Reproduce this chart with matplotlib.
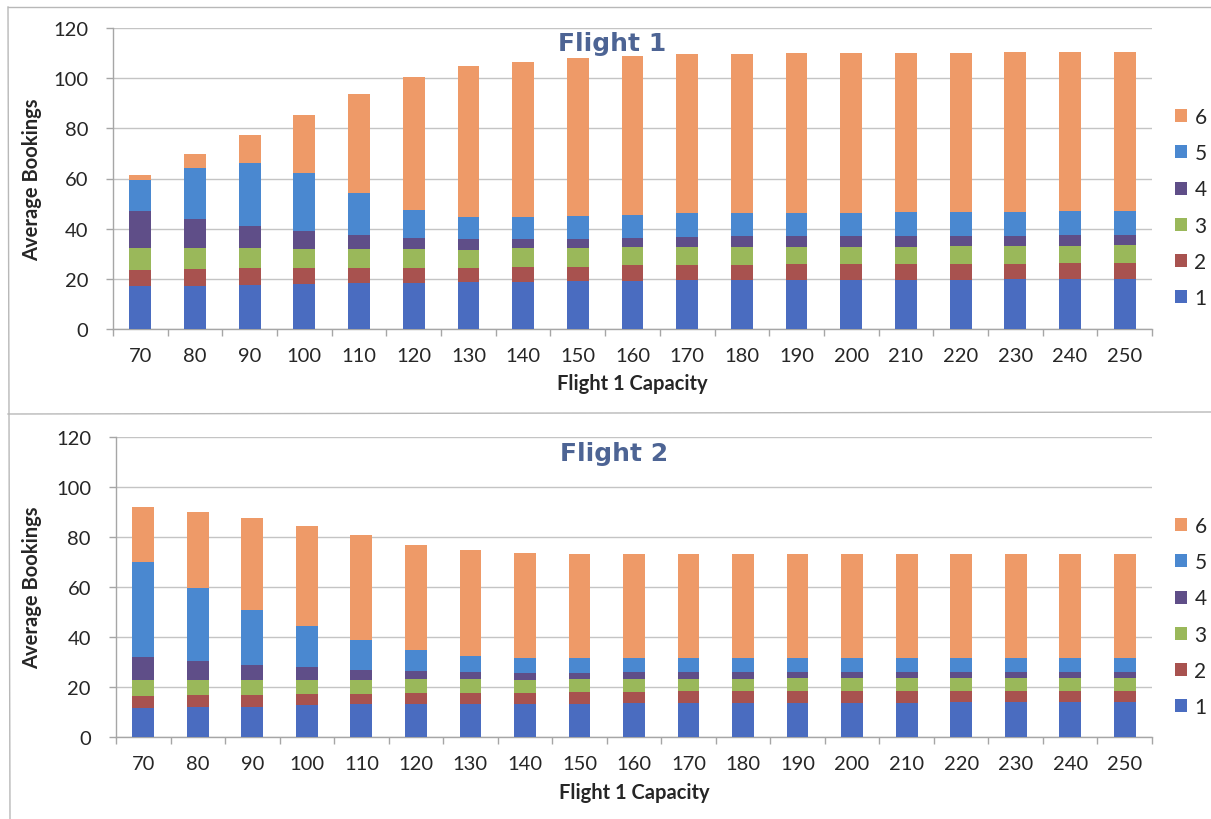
import numpy as np
import matplotlib
matplotlib.use("Agg")
import matplotlib.pyplot as plt
from matplotlib.patches import Patch
from matplotlib.lines import Line2D

# Flight 1 capacity levels (x categories)
capacities = [70, 80, 90, 100, 110, 120, 130, 140, 150, 160,
              170, 180, 190, 200, 210, 220, 230, 240, 250]
fare_classes = ["1", "2", "3", "4", "5", "6"]

# Flight 1: average bookings per fare class
f1_class1 = [17.3, 17.3, 17.5, 17.8, 18.3, 18.3, 18.6, 18.8, 19.1, 19.3,
             19.6, 19.6, 19.6, 19.6, 19.6, 19.7, 19.8, 19.8, 19.9]
f1_class2 = [6.2, 6.6, 6.7, 6.6, 6.1, 6.1, 5.8, 6.0, 5.8, 6.1,
             6.0, 6.1, 6.2, 6.2, 6.3, 6.3, 6.3, 6.4, 6.4]
f1_class3 = [8.9, 8.2, 7.9, 7.5, 7.5, 7.5, 7.2, 7.3, 7.2, 7.1,
             7.0, 7.1, 7.0, 7.0, 6.9, 6.9, 6.9, 7.0, 7.0]
f1_class4 = [14.5, 11.6, 8.9, 7.3, 5.6, 4.2, 4.1, 3.6, 3.7, 3.8,
             4.2, 4.1, 4.2, 4.2, 4.2, 4.2, 4.2, 4.2, 4.2]
f1_class5 = [12.6, 20.6, 25.1, 23.0, 16.6, 11.2, 8.8, 8.8, 9.2, 9.3,
             9.4, 9.4, 9.3, 9.4, 9.5, 9.5, 9.6, 9.5, 9.6]
f1_class6 = [2.0, 5.6, 11.3, 23.1, 39.5, 53.0, 60.2, 62.1, 63.0, 63.4,
             63.3, 63.4, 63.6, 63.6, 63.6, 63.6, 63.5, 63.5, 63.4]

# Flight 2: average bookings per fare class
f2_class1 = [11.6, 11.9, 12.0, 12.7, 13.1, 13.3, 13.3, 13.3, 13.4, 13.6,
             13.6, 13.7, 13.8, 13.8, 13.8, 13.9, 13.9, 13.9, 13.9]
f2_class2 = [4.7, 4.8, 4.9, 4.4, 4.2, 4.4, 4.4, 4.4, 4.5, 4.5,
             4.7, 4.6, 4.6, 4.6, 4.6, 4.6, 4.6, 4.6, 4.6]
f2_class3 = [6.4, 6.0, 5.8, 5.7, 5.5, 5.4, 5.4, 5.3, 5.2, 5.2,
             5.1, 5.1, 5.1, 5.1, 5.1, 5.1, 5.1, 5.1, 5.1]
f2_class4 = [9.3, 7.6, 6.2, 5.2, 3.9, 3.3, 2.9, 2.7, 2.6, 2.6,
             2.5, 2.6, 2.5, 2.5, 2.5, 2.4, 2.4, 2.4, 2.4]
f2_class5 = [38.0, 29.4, 21.8, 16.5, 12.1, 8.4, 6.4, 6.1, 6.0, 5.8,
             5.8, 5.7, 5.7, 5.7, 5.7, 5.8, 5.8, 5.8, 5.8]
f2_class6 = [22.1, 30.2, 36.9, 40.0, 41.9, 42.0, 42.3, 41.8, 41.6, 41.5,
             41.5, 41.5, 41.5, 41.6, 41.6, 41.5, 41.5, 41.5, 41.5]

colors = ["#4a6cc0", "#a8524f", "#9ab85a", "#5f4e88", "#4a88d0", "#ee9a68"]

FONT = "Lato"
TEXT = "#262626"
GRID = "#c4c4c4"
SPINE = "#a6a6a6"

W, H = 1211, 820
fig = plt.figure(figsize=(W / 100, H / 100), dpi=100)
fig.patch.set_facecolor("white")


def px_axes(left, right, top, bottom):
    return fig.add_axes([left / W, 1 - bottom / H, (right - left) / W, (bottom - top) / H])


def draw_panel(ax, series, title, title_xy, legend_y, xlabel_y, left_px):
    x = np.arange(len(capacities))
    base = np.zeros(len(capacities))
    handles = []
    for vals, col, name in zip(series, colors, fare_classes):
        vals = np.asarray(vals)
        ax.bar(x, vals, width=0.4, bottom=base, color=col, edgecolor="none", zorder=3)
        base = base + vals
        handles.append(Patch(facecolor=col, edgecolor="none", label=name))

    ax.set_xlim(-0.5, len(capacities) - 0.5)
    ax.set_ylim(0, 120)
    ax.set_yticks(np.arange(0, 121, 20))
    ax.yaxis.grid(True, color=GRID, linewidth=1.0, zorder=0)
    ax.set_axisbelow(True)

    ax.set_xticks(x)
    ax.set_xticklabels([str(c) for c in capacities])
    ax.set_xticks(np.arange(-0.5, len(capacities), 1.0), minor=True)
    ax.tick_params(axis="x", which="major", length=0, pad=13,
                   labelsize=14.5, labelcolor=TEXT)
    ax.tick_params(axis="x", which="minor", length=5, width=1, color=SPINE, direction="out")
    ax.tick_params(axis="y", which="major", length=5, width=1, color=SPINE,
                   pad=13, labelsize=14.5, labelcolor=TEXT)
    for lab in ax.get_xticklabels() + ax.get_yticklabels():
        lab.set_fontfamily(FONT)

    for s in ("top", "right"):
        ax.spines[s].set_visible(False)
    for s in ("left", "bottom"):
        ax.spines[s].set_color(SPINE)
        ax.spines[s].set_linewidth(1.0)

    ax.set_ylabel("Average Bookings", fontfamily=FONT, fontweight="bold",
                  fontsize=14.5, color=TEXT)
    pos = ax.get_position()
    width_px = pos.width * W
    ax.yaxis.set_label_coords((42 - left_px) / width_px, 0.5)
    fig.text((pos.x0 + pos.x1) / 2, 1 - xlabel_y / H, "Flight 1 Capacity",
             ha="center", va="center", fontfamily=FONT, fontweight="bold",
             fontsize=14.5, color=TEXT)

    fig.text(title_xy[0] / W, 1 - title_xy[1] / H, title, ha="center", va="center",
             fontfamily="DejaVu Sans", fontweight="bold", fontsize=18, color="#4d6494")

    leg = fig.legend(handles[::-1], [h.get_label() for h in handles[::-1]],
                     loc="center left", bbox_to_anchor=(1175 / W, 1 - legend_y / H),
                     frameon=False, borderpad=0, borderaxespad=0,
                     handlelength=0.58, handleheight=0.58,
                     handletextpad=0.35, labelspacing=0.78,
                     prop={"family": FONT, "size": 15})
    for t in leg.get_texts():
        t.set_color(TEXT)


ax1 = px_axes(113, 1152, 29, 330)
draw_panel(ax1, [f1_class1, f1_class2, f1_class3, f1_class4, f1_class5, f1_class6],
           "Flight 1", (612, 44), 208.5, 384, 113)

ax2 = px_axes(116, 1152, 438, 738)
draw_panel(ax2, [f2_class1, f2_class2, f2_class3, f2_class4, f2_class5, f2_class6],
           "Flight 2", (614, 454), 617.5, 793, 116)

# panel frame lines
frame_col = "#b8b8b8"
fig.add_artist(Line2D([8 / W, 1], [1 - 8 / H, 1 - 8 / H], transform=fig.transFigure,
                      color=frame_col, linewidth=1.0))
fig.add_artist(Line2D([8 / W, 10 / W], [1 - 8 / H, 0], transform=fig.transFigure,
                      color=frame_col, linewidth=1.0))
fig.add_artist(Line2D([8 / W, 1], [1 - 415 / H, 1 - 413 / H], transform=fig.transFigure,
                      color=frame_col, linewidth=1.0))

fig.savefig("out.png", dpi=100, facecolor="white")
